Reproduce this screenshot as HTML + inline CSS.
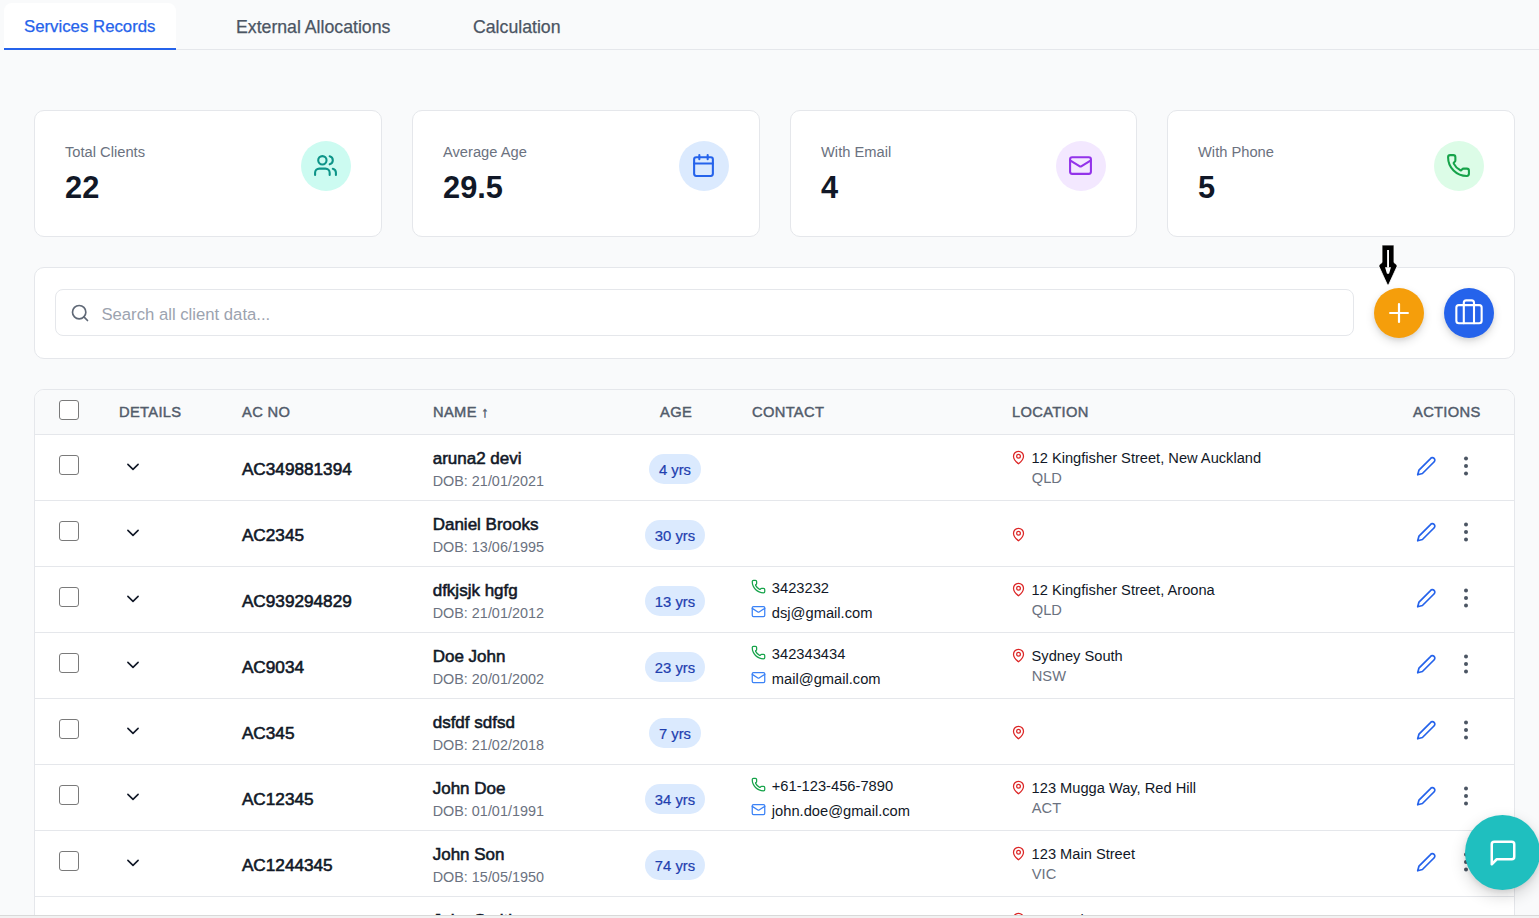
<!DOCTYPE html>
<html>
<head>
<meta charset="utf-8">
<style>
*{box-sizing:border-box;margin:0;padding:0}
html,body{width:1539px;height:918px;overflow:hidden}
body{background:#f9fafb;font-family:"Liberation Sans",Arial,sans-serif;color:#111827;position:relative}
.abs{position:absolute}
/* tabs */
.tabline{position:absolute;left:4px;top:49px;width:1535px;height:1px;background:#e5e7eb}
.tab{position:absolute;top:3px;height:47px;font-size:17.7px;line-height:20px;color:#4b5563;white-space:nowrap;-webkit-text-stroke:0.25px currentColor}
.tab span{position:absolute;top:13.7px}
.tab.active{left:4px;width:172px;background:#fff;border-radius:8px 8px 0 0;border-bottom:2px solid #2563eb;color:#2563eb;font-size:16.8px}
.tab.active span{top:14px}
/* stat cards */
.card{position:absolute;background:#fff;border:1px solid #e5e7eb;border-radius:10px}
.stat{top:110px;width:348px;height:127px}
.stat .lbl{position:absolute;left:30px;top:32.2px;font-size:14.7px;line-height:18px;color:#6b7280;white-space:nowrap}
.stat .val{position:absolute;left:30px;top:60px;font-size:30.8px;line-height:34px;font-weight:bold;color:#111827}
.stat .ic{position:absolute;right:30px;top:30px;width:50px;height:50px;border-radius:50%;display:flex;align-items:center;justify-content:center}
.stat .ic svg{position:relative;left:-1px;top:-1px}
/* search */
.search{left:34px;top:267px;width:1481px;height:92px;border-radius:10px}
.inp{position:absolute;left:20px;top:21px;width:1299px;height:47px;border:1px solid #e5e7eb;border-radius:8px;background:#fff}
.inp .ph{position:absolute;left:45.4px;top:14.6px;font-size:16.7px;line-height:20px;color:#9ca3af;white-space:nowrap}
.fab{position:absolute;width:50px;height:50px;border-radius:50%;box-shadow:0 4px 10px rgba(0,0,0,.13),0 2px 4px rgba(0,0,0,.07)}
.fab svg{position:absolute}
/* table */
.tbl{left:34px;top:389px;width:1481px;height:600px;border-radius:10px;overflow:hidden}
.thead{position:absolute;left:0;top:0;width:100%;height:45px;background:#f9fafb;border-bottom:1px solid #e5e7eb}
.th{position:absolute;top:14.3px;font-size:14.7px;line-height:16px;font-weight:normal;color:#525c6b;letter-spacing:.33px;-webkit-text-stroke:.45px #525c6b;white-space:nowrap}
.row{position:absolute;left:0;width:100%;height:66px;border-bottom:1px solid #e5e7eb;background:#fff}
.cb{position:absolute;left:24px;width:20px;height:20px;border:1.7px solid #7a7a7a;border-radius:3px;background:#fff}
.chev{position:absolute;left:91px;top:27px;width:14px;height:9px}
.chev svg,.act svg,.kebab svg{display:block}
.acno{position:absolute;left:206.9px;top:24.2px;font-size:17.2px;line-height:20px;font-weight:normal;-webkit-text-stroke:.6px #111827;color:#111827;white-space:nowrap}
.nm{position:absolute;left:397.7px;top:14px;font-size:17px;line-height:20px;font-weight:normal;-webkit-text-stroke:.55px #111827;color:#111827;white-space:nowrap}
.dob{position:absolute;left:397.7px;top:37.1px;font-size:14.4px;line-height:18px;color:#6b7280;white-space:nowrap}
.agew{position:absolute;left:580px;width:120px;top:19px;height:30px;display:flex;justify-content:center}
.age{height:30px;padding:0 10px;border-radius:15px;background:#dbeafe;color:#1e40af;font-size:14.8px;line-height:32.6px;white-space:nowrap;-webkit-text-stroke:.2px #1e40af}
.ct{position:absolute;left:716.3px;height:18px;font-size:14.7px;line-height:18px;color:#111827;white-space:nowrap}
.ct svg{position:absolute;left:0;top:0;display:block}
.ct span{position:absolute;left:20.5px;top:0}
.loc{position:absolute;left:976px;top:14.2px;white-space:nowrap}
.loc svg{position:absolute;left:0;top:0.4px;display:block}
.loc .l1{position:absolute;left:20.6px;top:0;font-size:14.65px;line-height:18px;color:#111827}
.loc .l2{position:absolute;left:20.8px;top:19.4px;font-size:14.65px;line-height:18px;color:#6b7280}
.loc.pinonly{top:26.2px}
.loc.pinonly svg{top:0}
.act{position:absolute;left:1380.9px;top:21.2px}
.kebab{position:absolute;left:1427px;top:20px}
.chat{position:absolute;left:1465px;top:815px;width:75px;height:75px;border-radius:50%;background:#1fbfbf;box-shadow:0 6px 16px rgba(0,0,0,.16),0 2px 5px rgba(0,0,0,.08)}
.chat svg{position:absolute;left:23px;top:23.2px}
.botline{position:absolute;left:0;top:915px;width:1539px;height:1px;background:#d9d9d9}
.botfill{position:absolute;left:0;top:916px;width:1539px;height:2px;background:#f2f2f2}
</style>
</head>
<body>
<!-- Tabs -->
<div class="tabline"></div>
<div class="tab active"><span style="left:20px">Services Records</span></div>
<div class="tab" style="left:236px"><span style="left:0">External Allocations</span></div>
<div class="tab" style="left:473px"><span style="left:0">Calculation</span></div>

<!-- Stat cards -->
<div class="card stat" style="left:34px">
  <div class="lbl">Total Clients</div>
  <div class="val">22</div>
  <div class="ic" style="background:#ccfbf1"><svg width="25" height="25" viewBox="0 0 24 24" fill="none" stroke="#0d9488" stroke-width="2" stroke-linecap="round" stroke-linejoin="round"><path d="M16 21v-2a4 4 0 0 0-4-4H6a4 4 0 0 0-4 4v2"/><circle cx="9" cy="7" r="4"/><path d="M22 21v-2a4 4 0 0 0-3-3.87"/><path d="M16 3.13a4 4 0 0 1 0 7.75"/></svg></div>
</div>
<div class="card stat" style="left:412px">
  <div class="lbl">Average Age</div>
  <div class="val">29.5</div>
  <div class="ic" style="background:#dbeafe"><svg width="25" height="25" viewBox="0 0 24 24" fill="none" stroke="#2563eb" stroke-width="2" stroke-linecap="round" stroke-linejoin="round"><rect x="3" y="4" width="18" height="18" rx="2"/><path d="M16 2v4M8 2v4M3 10h18"/></svg></div>
</div>
<div class="card stat" style="left:790px;width:347px">
  <div class="lbl">With Email</div>
  <div class="val">4</div>
  <div class="ic" style="background:#f3e8ff"><svg width="25" height="25" viewBox="0 0 24 24" fill="none" stroke="#9333ea" stroke-width="2" stroke-linecap="round" stroke-linejoin="round"><rect x="2" y="4" width="20" height="16" rx="2"/><path d="m22 7-8.97 5.7a1.94 1.94 0 0 1-2.06 0L2 7"/></svg></div>
</div>
<div class="card stat" style="left:1167px">
  <div class="lbl">With Phone</div>
  <div class="val">5</div>
  <div class="ic" style="background:#dcfce7"><svg width="25" height="25" viewBox="0 0 24 24" fill="none" stroke="#16a34a" stroke-width="2" stroke-linecap="round" stroke-linejoin="round"><path d="M13.832 16.568a1 1 0 0 0 1.213-.303l.355-.465A2 2 0 0 1 17 15h3a2 2 0 0 1 2 2v3a2 2 0 0 1-2 2A18 18 0 0 1 2 4a2 2 0 0 1 2-2h3a2 2 0 0 1 2 2v3a2 2 0 0 1-.8 1.6l-.468.351a1 1 0 0 0-.292 1.233 14 14 0 0 0 6.392 6.384"/></svg></div>
</div>

<!-- Search card -->
<div class="card search">
  <div class="inp">
    <svg class="abs" style="left:14px;top:13px" width="20" height="20" viewBox="0 0 24 24" fill="none" stroke="#5f6876" stroke-width="2" stroke-linecap="round" stroke-linejoin="round"><circle cx="11" cy="11" r="8"/><path d="m21 21-4.3-4.3"/></svg>
    <div class="ph">Search all client data...</div>
  </div>
  <div class="fab" style="left:1339px;top:20px;background:#f59e0b"><svg style="left:0;top:0" width="50" height="50" viewBox="0 0 50 50" fill="none" stroke="#fff" stroke-width="2.2" stroke-linecap="round"><path d="M16.1 25H33.9M25 16.1V33.9"/></svg></div>
  <div class="fab" style="left:1409px;top:20px;background:#2563eb"><svg style="left:0;top:0" width="50" height="50" viewBox="0 0 50 50" fill="none" stroke="#fff" stroke-width="2.1" stroke-linecap="round" stroke-linejoin="round"><rect x="12.35" y="17.15" width="25.3" height="18.1" rx="2.5"/><path d="M30 35.25V14.85a2.5 2.5 0 0 0-2.5-2.5h-5.2a2.5 2.5 0 0 0-2.5 2.5V35.25"/></svg></div>
</div>
<!-- cursor -->
<svg class="abs" style="left:1378px;top:244px" width="20" height="42" viewBox="0 0 20 42"><path d="M4 1.6Q4 1 4.6 1H15.4Q16 1 16 1.6V18.5L19 21V22.5L10.5 41H9.5L1 22.5V21L4 18.5Z" fill="#000" stroke="#fff" stroke-width="0.8"/><rect x="9.1" y="6" width="1.9" height="17.3" fill="#fff"/><path d="M7 23.3H13L11 29.8H9Z" fill="#fff"/></svg>

<!-- Table -->
<div class="card tbl">
  <div class="thead">
    <div class="cb" style="top:10px"></div>
    <div class="th" style="left:84px">DETAILS</div>
    <div class="th" style="left:207px">AC NO</div>
    <div class="th" style="left:398px">NAME ↑</div>
    <div class="th" style="left:625px">AGE</div>
    <div class="th" style="left:717px">CONTACT</div>
    <div class="th" style="left:977px">LOCATION</div>
    <div class="th" style="left:1378px">ACTIONS</div>
  </div>
  <!--ROWS-->
<div class="row" style="top:45px"><div class="cb" style="top:20px"></div><div class="chev"><svg width="14" height="9" viewBox="0 0 14 9" fill="none" stroke="#111827" stroke-width="1.6" stroke-linecap="round" stroke-linejoin="round"><path d="M1.9 2.4 7 7.3 12.1 2.4"/></svg></div><div class="acno">AC349881394</div><div class="nm">aruna2 devi</div><div class="dob">DOB: 21/01/2021</div><div class="agew"><div class="age">4 yrs</div></div><div class="loc"><svg width="15" height="15" viewBox="0 0 24 24" fill="none" stroke="#dc2626" stroke-width="2" stroke-linecap="round" stroke-linejoin="round"><path d="M20 10c0 6-8 12-8 12s-8-6-8-12a8 8 0 0 1 16 0Z"/><circle cx="12" cy="10" r="3"/></svg><div class="l1">12 Kingfisher Street, New Auckland</div><div class="l2">QLD</div></div><div class="act"><svg width="20.5" height="20.5" viewBox="0 0 24 24" fill="none" stroke="#2563eb" stroke-width="2" stroke-linecap="round" stroke-linejoin="round"><path d="M17 3a2.85 2.83 0 1 1 4 4L7.5 20.5 2 22l1.5-5.5Z"/></svg></div><div class="kebab"><svg width="8" height="22" viewBox="0 0 8 22" fill="#4b5563"><circle cx="4" cy="3.4" r="2"/><circle cx="4" cy="10.9" r="2"/><circle cx="4" cy="18.4" r="2"/></svg></div></div>
<div class="row" style="top:111px"><div class="cb" style="top:20px"></div><div class="chev"><svg width="14" height="9" viewBox="0 0 14 9" fill="none" stroke="#111827" stroke-width="1.6" stroke-linecap="round" stroke-linejoin="round"><path d="M1.9 2.4 7 7.3 12.1 2.4"/></svg></div><div class="acno">AC2345</div><div class="nm">Daniel Brooks</div><div class="dob">DOB: 13/06/1995</div><div class="agew"><div class="age">30 yrs</div></div><div class="loc pinonly"><svg width="15" height="15" viewBox="0 0 24 24" fill="none" stroke="#dc2626" stroke-width="2" stroke-linecap="round" stroke-linejoin="round"><path d="M20 10c0 6-8 12-8 12s-8-6-8-12a8 8 0 0 1 16 0Z"/><circle cx="12" cy="10" r="3"/></svg></div><div class="act"><svg width="20.5" height="20.5" viewBox="0 0 24 24" fill="none" stroke="#2563eb" stroke-width="2" stroke-linecap="round" stroke-linejoin="round"><path d="M17 3a2.85 2.83 0 1 1 4 4L7.5 20.5 2 22l1.5-5.5Z"/></svg></div><div class="kebab"><svg width="8" height="22" viewBox="0 0 8 22" fill="#4b5563"><circle cx="4" cy="3.4" r="2"/><circle cx="4" cy="10.9" r="2"/><circle cx="4" cy="18.4" r="2"/></svg></div></div>
<div class="row" style="top:177px"><div class="cb" style="top:20px"></div><div class="chev"><svg width="14" height="9" viewBox="0 0 14 9" fill="none" stroke="#111827" stroke-width="1.6" stroke-linecap="round" stroke-linejoin="round"><path d="M1.9 2.4 7 7.3 12.1 2.4"/></svg></div><div class="acno">AC939294829</div><div class="nm">dfkjsjk hgfg</div><div class="dob">DOB: 21/01/2012</div><div class="agew"><div class="age">13 yrs</div></div><div class="ct" style="top:12.1px"><svg style="top:0.2px" width="15" height="15" viewBox="0 0 24 24" fill="none" stroke="#16a34a" stroke-width="2" stroke-linecap="round" stroke-linejoin="round"><path d="M13.832 16.568a1 1 0 0 0 1.213-.303l.355-.465A2 2 0 0 1 17 15h3a2 2 0 0 1 2 2v3a2 2 0 0 1-2 2A18 18 0 0 1 2 4a2 2 0 0 1 2-2h3a2 2 0 0 1 2 2v3a2 2 0 0 1-.8 1.6l-.468.351a1 1 0 0 0-.292 1.233 14 14 0 0 0 6.392 6.384"/></svg><span>3423232</span></div><div class="ct" style="top:37.1px"><svg width="15" height="15" viewBox="0 0 24 24" fill="none" stroke="#3b82f6" stroke-width="2" stroke-linecap="round" stroke-linejoin="round"><rect x="2" y="4" width="20" height="16" rx="2"/><path d="m22 7-8.991 5.727a2 2 0 0 1-2.009 0L2 7"/></svg><span>dsj@gmail.com</span></div><div class="loc"><svg width="15" height="15" viewBox="0 0 24 24" fill="none" stroke="#dc2626" stroke-width="2" stroke-linecap="round" stroke-linejoin="round"><path d="M20 10c0 6-8 12-8 12s-8-6-8-12a8 8 0 0 1 16 0Z"/><circle cx="12" cy="10" r="3"/></svg><div class="l1">12 Kingfisher Street, Aroona</div><div class="l2">QLD</div></div><div class="act"><svg width="20.5" height="20.5" viewBox="0 0 24 24" fill="none" stroke="#2563eb" stroke-width="2" stroke-linecap="round" stroke-linejoin="round"><path d="M17 3a2.85 2.83 0 1 1 4 4L7.5 20.5 2 22l1.5-5.5Z"/></svg></div><div class="kebab"><svg width="8" height="22" viewBox="0 0 8 22" fill="#4b5563"><circle cx="4" cy="3.4" r="2"/><circle cx="4" cy="10.9" r="2"/><circle cx="4" cy="18.4" r="2"/></svg></div></div>
<div class="row" style="top:243px"><div class="cb" style="top:20px"></div><div class="chev"><svg width="14" height="9" viewBox="0 0 14 9" fill="none" stroke="#111827" stroke-width="1.6" stroke-linecap="round" stroke-linejoin="round"><path d="M1.9 2.4 7 7.3 12.1 2.4"/></svg></div><div class="acno">AC9034</div><div class="nm">Doe John</div><div class="dob">DOB: 20/01/2002</div><div class="agew"><div class="age">23 yrs</div></div><div class="ct" style="top:12.1px"><svg style="top:0.2px" width="15" height="15" viewBox="0 0 24 24" fill="none" stroke="#16a34a" stroke-width="2" stroke-linecap="round" stroke-linejoin="round"><path d="M13.832 16.568a1 1 0 0 0 1.213-.303l.355-.465A2 2 0 0 1 17 15h3a2 2 0 0 1 2 2v3a2 2 0 0 1-2 2A18 18 0 0 1 2 4a2 2 0 0 1 2-2h3a2 2 0 0 1 2 2v3a2 2 0 0 1-.8 1.6l-.468.351a1 1 0 0 0-.292 1.233 14 14 0 0 0 6.392 6.384"/></svg><span>342343434</span></div><div class="ct" style="top:37.1px"><svg width="15" height="15" viewBox="0 0 24 24" fill="none" stroke="#3b82f6" stroke-width="2" stroke-linecap="round" stroke-linejoin="round"><rect x="2" y="4" width="20" height="16" rx="2"/><path d="m22 7-8.991 5.727a2 2 0 0 1-2.009 0L2 7"/></svg><span>mail@gmail.com</span></div><div class="loc"><svg width="15" height="15" viewBox="0 0 24 24" fill="none" stroke="#dc2626" stroke-width="2" stroke-linecap="round" stroke-linejoin="round"><path d="M20 10c0 6-8 12-8 12s-8-6-8-12a8 8 0 0 1 16 0Z"/><circle cx="12" cy="10" r="3"/></svg><div class="l1">Sydney South</div><div class="l2">NSW</div></div><div class="act"><svg width="20.5" height="20.5" viewBox="0 0 24 24" fill="none" stroke="#2563eb" stroke-width="2" stroke-linecap="round" stroke-linejoin="round"><path d="M17 3a2.85 2.83 0 1 1 4 4L7.5 20.5 2 22l1.5-5.5Z"/></svg></div><div class="kebab"><svg width="8" height="22" viewBox="0 0 8 22" fill="#4b5563"><circle cx="4" cy="3.4" r="2"/><circle cx="4" cy="10.9" r="2"/><circle cx="4" cy="18.4" r="2"/></svg></div></div>
<div class="row" style="top:309px"><div class="cb" style="top:20px"></div><div class="chev"><svg width="14" height="9" viewBox="0 0 14 9" fill="none" stroke="#111827" stroke-width="1.6" stroke-linecap="round" stroke-linejoin="round"><path d="M1.9 2.4 7 7.3 12.1 2.4"/></svg></div><div class="acno">AC345</div><div class="nm">dsfdf sdfsd</div><div class="dob">DOB: 21/02/2018</div><div class="agew"><div class="age">7 yrs</div></div><div class="loc pinonly"><svg width="15" height="15" viewBox="0 0 24 24" fill="none" stroke="#dc2626" stroke-width="2" stroke-linecap="round" stroke-linejoin="round"><path d="M20 10c0 6-8 12-8 12s-8-6-8-12a8 8 0 0 1 16 0Z"/><circle cx="12" cy="10" r="3"/></svg></div><div class="act"><svg width="20.5" height="20.5" viewBox="0 0 24 24" fill="none" stroke="#2563eb" stroke-width="2" stroke-linecap="round" stroke-linejoin="round"><path d="M17 3a2.85 2.83 0 1 1 4 4L7.5 20.5 2 22l1.5-5.5Z"/></svg></div><div class="kebab"><svg width="8" height="22" viewBox="0 0 8 22" fill="#4b5563"><circle cx="4" cy="3.4" r="2"/><circle cx="4" cy="10.9" r="2"/><circle cx="4" cy="18.4" r="2"/></svg></div></div>
<div class="row" style="top:375px"><div class="cb" style="top:20px"></div><div class="chev"><svg width="14" height="9" viewBox="0 0 14 9" fill="none" stroke="#111827" stroke-width="1.6" stroke-linecap="round" stroke-linejoin="round"><path d="M1.9 2.4 7 7.3 12.1 2.4"/></svg></div><div class="acno">AC12345</div><div class="nm">John Doe</div><div class="dob">DOB: 01/01/1991</div><div class="agew"><div class="age">34 yrs</div></div><div class="ct" style="top:12.1px"><svg style="top:0.2px" width="15" height="15" viewBox="0 0 24 24" fill="none" stroke="#16a34a" stroke-width="2" stroke-linecap="round" stroke-linejoin="round"><path d="M13.832 16.568a1 1 0 0 0 1.213-.303l.355-.465A2 2 0 0 1 17 15h3a2 2 0 0 1 2 2v3a2 2 0 0 1-2 2A18 18 0 0 1 2 4a2 2 0 0 1 2-2h3a2 2 0 0 1 2 2v3a2 2 0 0 1-.8 1.6l-.468.351a1 1 0 0 0-.292 1.233 14 14 0 0 0 6.392 6.384"/></svg><span>+61-123-456-7890</span></div><div class="ct" style="top:37.1px"><svg width="15" height="15" viewBox="0 0 24 24" fill="none" stroke="#3b82f6" stroke-width="2" stroke-linecap="round" stroke-linejoin="round"><rect x="2" y="4" width="20" height="16" rx="2"/><path d="m22 7-8.991 5.727a2 2 0 0 1-2.009 0L2 7"/></svg><span>john.doe@gmail.com</span></div><div class="loc"><svg width="15" height="15" viewBox="0 0 24 24" fill="none" stroke="#dc2626" stroke-width="2" stroke-linecap="round" stroke-linejoin="round"><path d="M20 10c0 6-8 12-8 12s-8-6-8-12a8 8 0 0 1 16 0Z"/><circle cx="12" cy="10" r="3"/></svg><div class="l1">123 Mugga Way, Red Hill</div><div class="l2">ACT</div></div><div class="act"><svg width="20.5" height="20.5" viewBox="0 0 24 24" fill="none" stroke="#2563eb" stroke-width="2" stroke-linecap="round" stroke-linejoin="round"><path d="M17 3a2.85 2.83 0 1 1 4 4L7.5 20.5 2 22l1.5-5.5Z"/></svg></div><div class="kebab"><svg width="8" height="22" viewBox="0 0 8 22" fill="#4b5563"><circle cx="4" cy="3.4" r="2"/><circle cx="4" cy="10.9" r="2"/><circle cx="4" cy="18.4" r="2"/></svg></div></div>
<div class="row" style="top:441px"><div class="cb" style="top:20px"></div><div class="chev"><svg width="14" height="9" viewBox="0 0 14 9" fill="none" stroke="#111827" stroke-width="1.6" stroke-linecap="round" stroke-linejoin="round"><path d="M1.9 2.4 7 7.3 12.1 2.4"/></svg></div><div class="acno">AC1244345</div><div class="nm">John Son</div><div class="dob">DOB: 15/05/1950</div><div class="agew"><div class="age">74 yrs</div></div><div class="loc"><svg width="15" height="15" viewBox="0 0 24 24" fill="none" stroke="#dc2626" stroke-width="2" stroke-linecap="round" stroke-linejoin="round"><path d="M20 10c0 6-8 12-8 12s-8-6-8-12a8 8 0 0 1 16 0Z"/><circle cx="12" cy="10" r="3"/></svg><div class="l1">123 Main Street</div><div class="l2">VIC</div></div><div class="act"><svg width="20.5" height="20.5" viewBox="0 0 24 24" fill="none" stroke="#2563eb" stroke-width="2" stroke-linecap="round" stroke-linejoin="round"><path d="M17 3a2.85 2.83 0 1 1 4 4L7.5 20.5 2 22l1.5-5.5Z"/></svg></div><div class="kebab"><svg width="8" height="22" viewBox="0 0 8 22" fill="#4b5563"><circle cx="4" cy="3.4" r="2"/><circle cx="4" cy="10.9" r="2"/><circle cx="4" cy="18.4" r="2"/></svg></div></div>
<div class="row" style="top:507px"><div class="cb" style="top:20px"></div><div class="chev"><svg width="14" height="9" viewBox="0 0 14 9" fill="none" stroke="#111827" stroke-width="1.6" stroke-linecap="round" stroke-linejoin="round"><path d="M1.9 2.4 7 7.3 12.1 2.4"/></svg></div><div class="acno">AC1244346</div><div class="nm">John Smith</div><div class="dob">DOB: 10/02/1960</div><div class="agew"><div class="age">65 yrs</div></div><div class="loc"><svg width="15" height="15" viewBox="0 0 24 24" fill="none" stroke="#dc2626" stroke-width="2" stroke-linecap="round" stroke-linejoin="round"><path d="M20 10c0 6-8 12-8 12s-8-6-8-12a8 8 0 0 1 16 0Z"/><circle cx="12" cy="10" r="3"/></svg><div class="l1">123 Main Street</div><div class="l2">VIC</div></div><div class="act"><svg width="20.5" height="20.5" viewBox="0 0 24 24" fill="none" stroke="#2563eb" stroke-width="2" stroke-linecap="round" stroke-linejoin="round"><path d="M17 3a2.85 2.83 0 1 1 4 4L7.5 20.5 2 22l1.5-5.5Z"/></svg></div><div class="kebab"><svg width="8" height="22" viewBox="0 0 8 22" fill="#4b5563"><circle cx="4" cy="3.4" r="2"/><circle cx="4" cy="10.9" r="2"/><circle cx="4" cy="18.4" r="2"/></svg></div></div>
<!--/ROWS-->
</div>
<div class="chat"><svg width="30" height="30" viewBox="0 0 24 24" fill="none" stroke="#fff" stroke-width="2" stroke-linecap="round" stroke-linejoin="round"><path d="M21 15a2 2 0 0 1-2 2H7l-4 4V5a2 2 0 0 1 2-2h14a2 2 0 0 1 2 2z"/></svg></div>
<div class="botline"></div><div class="botfill"></div>
</body>
</html>
